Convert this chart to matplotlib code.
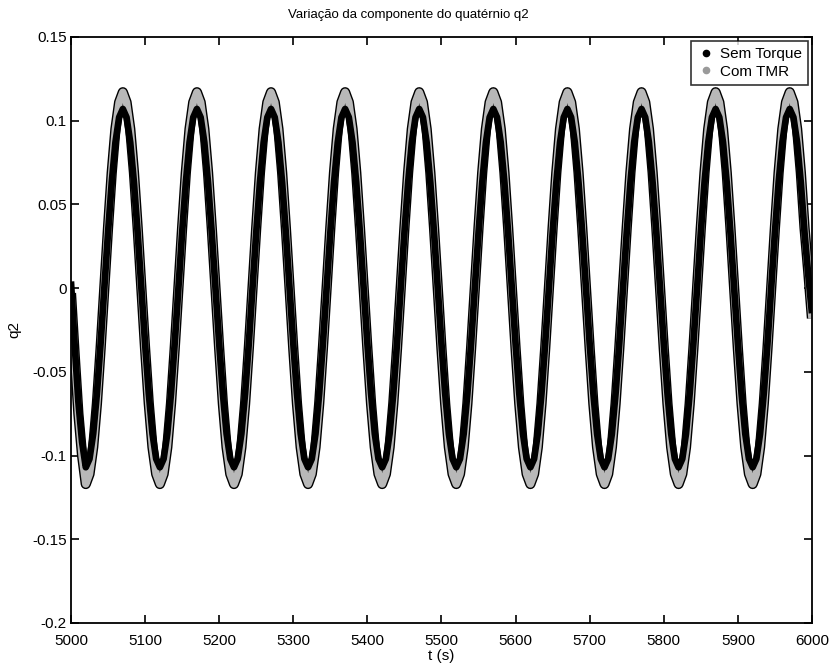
import numpy as np
import matplotlib
matplotlib.use('Agg')
import matplotlib.pyplot as plt
from matplotlib.lines import Line2D

plt.rcParams['font.family'] = ['Liberation Sans', 'DejaVu Sans']

# tempo amostrado a cada 5 s
t = list(range(5000, 6001, 5))

# valores (q2)
com_tmr = [-0.003, -0.040, -0.075, -0.100,
           -0.117, -0.111, -0.095, -0.069, -0.036, 0.000, 0.036, 0.069, 0.095, 0.111,
           0.117, 0.111, 0.095, 0.069, 0.036, 0.000, -0.036, -0.069, -0.095, -0.111,
           -0.117, -0.111, -0.095, -0.069, -0.036, 0.000, 0.036, 0.069, 0.095, 0.111,
           0.117, 0.111, 0.095, 0.069, 0.036, 0.000, -0.036, -0.069, -0.095, -0.111,
           -0.117, -0.111, -0.095, -0.069, -0.036, 0.000, 0.036, 0.069, 0.095, 0.111,
           0.117, 0.111, 0.095, 0.069, 0.036, 0.000, -0.036, -0.069, -0.095, -0.111,
           -0.117, -0.111, -0.095, -0.069, -0.036, 0.000, 0.036, 0.069, 0.095, 0.111,
           0.117, 0.111, 0.095, 0.069, 0.036, 0.000, -0.036, -0.069, -0.095, -0.111,
           -0.117, -0.111, -0.095, -0.069, -0.036, 0.000, 0.036, 0.069, 0.095, 0.111,
           0.117, 0.111, 0.095, 0.069, 0.036, 0.000, -0.036, -0.069, -0.095, -0.111,
           -0.117, -0.111, -0.095, -0.069, -0.036, 0.000, 0.036, 0.069, 0.095, 0.111,
           0.117, 0.111, 0.095, 0.069, 0.036, 0.000, -0.036, -0.069, -0.095, -0.111,
           -0.117, -0.111, -0.095, -0.069, -0.036, 0.000, 0.036, 0.069, 0.095, 0.111,
           0.117, 0.111, 0.095, 0.069, 0.036, 0.000, -0.036, -0.069, -0.095, -0.111,
           -0.117, -0.111, -0.095, -0.069, -0.036, 0.000, 0.036, 0.069, 0.095, 0.111,
           0.117, 0.111, 0.095, 0.069, 0.036, 0.000, -0.036, -0.069, -0.095, -0.111,
           -0.117, -0.111, -0.095, -0.069, -0.036, 0.000, 0.036, 0.069, 0.095, 0.111,
           0.117, 0.111, 0.095, 0.069, 0.036, 0.000, -0.036, -0.069, -0.095, -0.111,
           -0.117, -0.111, -0.095, -0.069, -0.036, 0.000, 0.036, 0.069, 0.095, 0.111,
           0.117, 0.111, 0.095, 0.069, 0.036, 0.010, -0.018]
sem_torque = [0.004, -0.034, -0.068, -0.092,
              -0.107, -0.102, -0.087, -0.063, -0.033, 0.000, 0.033, 0.063, 0.087, 0.102,
              0.107, 0.102, 0.087, 0.063, 0.033, 0.000, -0.033, -0.063, -0.087, -0.102,
              -0.107, -0.102, -0.087, -0.063, -0.033, 0.000, 0.033, 0.063, 0.087, 0.102,
              0.107, 0.102, 0.087, 0.063, 0.033, 0.000, -0.033, -0.063, -0.087, -0.102,
              -0.107, -0.102, -0.087, -0.063, -0.033, 0.000, 0.033, 0.063, 0.087, 0.102,
              0.107, 0.102, 0.087, 0.063, 0.033, 0.000, -0.033, -0.063, -0.087, -0.102,
              -0.107, -0.102, -0.087, -0.063, -0.033, 0.000, 0.033, 0.063, 0.087, 0.102,
              0.107, 0.102, 0.087, 0.063, 0.033, 0.000, -0.033, -0.063, -0.087, -0.102,
              -0.107, -0.102, -0.087, -0.063, -0.033, 0.000, 0.033, 0.063, 0.087, 0.102,
              0.107, 0.102, 0.087, 0.063, 0.033, 0.000, -0.033, -0.063, -0.087, -0.102,
              -0.107, -0.102, -0.087, -0.063, -0.033, 0.000, 0.033, 0.063, 0.087, 0.102,
              0.107, 0.102, 0.087, 0.063, 0.033, 0.000, -0.033, -0.063, -0.087, -0.102,
              -0.107, -0.102, -0.087, -0.063, -0.033, 0.000, 0.033, 0.063, 0.087, 0.102,
              0.107, 0.102, 0.087, 0.063, 0.033, 0.000, -0.033, -0.063, -0.087, -0.102,
              -0.107, -0.102, -0.087, -0.063, -0.033, 0.000, 0.033, 0.063, 0.087, 0.102,
              0.107, 0.102, 0.087, 0.063, 0.033, 0.000, -0.033, -0.063, -0.087, -0.102,
              -0.107, -0.102, -0.087, -0.063, -0.033, 0.000, 0.033, 0.063, 0.087, 0.102,
              0.107, 0.102, 0.087, 0.063, 0.033, 0.000, -0.033, -0.063, -0.087, -0.102,
              -0.107, -0.102, -0.087, -0.063, -0.033, 0.000, 0.033, 0.063, 0.087, 0.102,
              0.107, 0.102, 0.087, 0.063, 0.033, 0.008, -0.015]

xticks = list(range(5000, 6001, 100))
yticks = [-0.2, -0.15, -0.1, -0.05, 0, 0.05, 0.1, 0.15]
ylabels = ['-0.2', '-0.15', '-0.1', '-0.05', '0', '0.05', '0.1', '0.15']

fig = plt.figure(figsize=(8.32, 6.69), dpi=100)
ax = fig.add_axes([0.0853, 0.0688, 0.8906, 0.8759])

# Com TMR: faixa cinza com borda preta
ax.plot(t, com_tmr, color='black', lw=7.4, solid_joinstyle='round', solid_capstyle='butt')
ax.plot(t, com_tmr, color='#b8b8b8', lw=5.4, solid_joinstyle='round', solid_capstyle='butt')
# Sem Torque: faixa preta
ax.plot(t, sem_torque, color='black', lw=4.8, solid_joinstyle='round', solid_capstyle='butt')

ax.set_xlim(5000, 6000)
ax.set_ylim(-0.2, 0.15)
ax.set_xticks(xticks)
ax.set_yticks(yticks)
ax.set_yticklabels(ylabels)
ax.tick_params(direction='in', length=6, width=1.2, top=True, right=True,
               labelsize=11, pad=3)
ax.tick_params(axis='x', pad=8)
for s in ax.spines.values():
    s.set_linewidth(1.3)

ax.set_title('Variação da componente do quatérnio q2', fontsize=9.5, x=0.455, pad=14)
ax.set_xlabel('t (s)', fontsize=11, labelpad=1)
ax.set_ylabel('q2', fontsize=11, labelpad=8)

handles = [Line2D([], [], ls='none', marker='.', color='black', ms=9),
           Line2D([], [], ls='none', marker='.', color='#9a9a9a', ms=9)]
leg = ax.legend(handles, ['Sem Torque', 'Com TMR'], loc='upper right', fontsize=11,
                frameon=True, fancybox=False, edgecolor='black', borderaxespad=0.25,
                handlelength=1.2, handletextpad=0.3, borderpad=0.4, labelspacing=0.25)
leg.get_frame().set_linewidth(1.2)

fig.savefig('out.png', dpi=100)
